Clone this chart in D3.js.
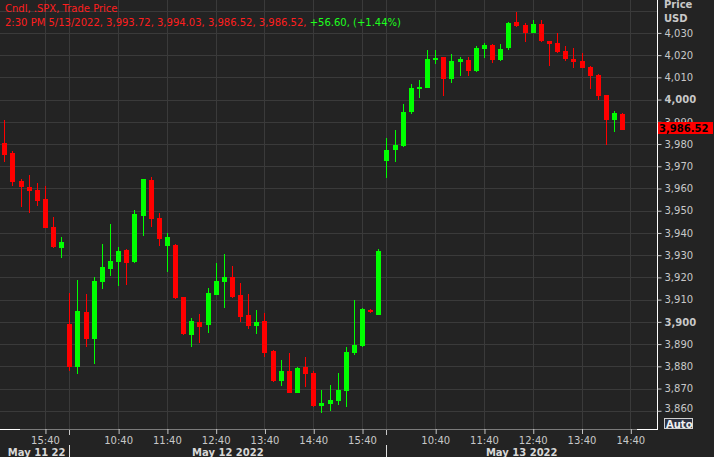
<!DOCTYPE html>
<html><head><meta charset="utf-8">
<script src="https://cdn.jsdelivr.net/npm/d3@7"></script>
<style>
html,body{margin:0;padding:0;background:#232323;}
svg{display:block;font-family:"DejaVu Sans",Verdana,sans-serif;}
</style></head><body>
<svg id="chart" width="714" height="457"></svg>
<script>
// ---- data (10-minute candles, label = bar end time) ----
const times = [
 "05/11 14:50","05/11 15:00","05/11 15:10","05/11 15:20","05/11 15:30","05/11 15:40","05/11 15:50","05/11 16:00",
 "05/12 09:40","05/12 09:50","05/12 10:00","05/12 10:10","05/12 10:20","05/12 10:30","05/12 10:40","05/12 10:50",
 "05/12 11:00","05/12 11:10","05/12 11:20","05/12 11:30","05/12 11:40","05/12 11:50","05/12 12:00","05/12 12:10",
 "05/12 12:20","05/12 12:30","05/12 12:40","05/12 12:50","05/12 13:00","05/12 13:10","05/12 13:20","05/12 13:30",
 "05/12 13:40","05/12 13:50","05/12 14:00","05/12 14:10","05/12 14:20","05/12 14:30","05/12 14:40","05/12 14:50",
 "05/12 15:00","05/12 15:10","05/12 15:20","05/12 15:30","05/12 15:40","05/12 15:50","05/12 16:00",
 "05/13 09:40","05/13 09:50","05/13 10:00","05/13 10:10","05/13 10:20","05/13 10:30","05/13 10:40","05/13 10:50",
 "05/13 11:00","05/13 11:10","05/13 11:20","05/13 11:30","05/13 11:40","05/13 11:50","05/13 12:00","05/13 12:10",
 "05/13 12:20","05/13 12:30","05/13 12:40","05/13 12:50","05/13 13:00","05/13 13:10","05/13 13:20","05/13 13:30",
 "05/13 13:40","05/13 13:50","05/13 14:00","05/13 14:10","05/13 14:20","05/13 14:30"
];
const futureSlots = ["05/13 14:40","05/13 14:50","05/13 15:00","05/13 15:10"];
const open  = [3980.3,3975.8,3963.4,3960.7,3959.3,3955.3,3942.7,3933.4,
 3899.2,3879.5,3904.6,3892.4,3918.1,3924.0,3927.1,3932.4,3927.1,3947.8,3963.8,3946.9,3934.3,3934.6,3911.2,3894.2,
 3900.1,3898.7,3912.1,3918.0,3920.2,3912.1,3903.1,3898.2,3900.4,3886.7,3873.2,3877.7,3868.2,3879.5,3877.2,3862.2,
 3863.1,3864.6,3869.1,3886.2,3889.2,3905.5,3903.1,
 3972.4,3977.3,3979.1,3994.5,4004.6,4005.3,4017.8,4019.1,4009.2,4016.9,4017.8,4012.9,4022.8,4024.5,4017.8,4023.3,
 4034.8,4033.5,4030.0,4033.9,4026.3,4025.5,4021.8,4018.2,4017.3,4014.7,4011.0,4002.0,3990.8,3993.72];
const high  = [3990.8,3977.0,3964.3,3966.1,3962.6,3961.1,3947.1,3938.3,
 3912.9,3918.9,3912.4,3920.4,3935.0,3944.0,3933.8,3932.6,3950.3,3964.3,3965.2,3948.9,3939.9,3935.1,3911.4,3901.8,
 3903.6,3915.1,3926.7,3930.6,3925.3,3917.4,3912.6,3905.4,3903.9,3887.4,3882.9,3886.2,3879.6,3884.4,3878.0,3869.4,
 3871.7,3877.2,3888.9,3909.9,3906.4,3905.8,3932.8,
 3982.8,3986.3,3998.0,4007.0,4008.8,4022.2,4022.2,4019.3,4020.4,4019.2,4019.0,4024.0,4025.3,4024.8,4024.9,4034.8,
 4039.5,4034.5,4035.7,4035.7,4026.5,4029.8,4024.0,4023.3,4021.0,4015.0,4011.5,4002.2,3994.8,3994.03];
const low   = [3972.0,3961.1,3951.8,3949.1,3952.1,3942.1,3933.4,3928.9,
 3877.7,3876.6,3888.9,3881.1,3914.8,3920.8,3916.3,3916.6,3926.5,3938.7,3942.8,3934.3,3922.6,3910.5,3894.2,3888.9,
 3890.7,3895.2,3912.0,3906.4,3910.9,3900.1,3896.7,3894.6,3884.4,3873.0,3871.2,3868.0,3868.0,3870.9,3861.7,3859.0,
 3859.7,3862.7,3861.9,3885.0,3888.9,3904.2,3903.1,
 3964.9,3972.0,3978.8,3993.5,4000.8,4005.0,4016.0,4001.6,4007.6,4010.6,4010.6,4012.6,4018.8,4016.3,4017.3,4022.2,
 4032.7,4026.0,4029.8,4026.0,4015.2,4020.8,4017.4,4014.3,4014.0,4004.6,3999.8,3979.6,3985.5,3986.52];
const close = [3975.1,3963.1,3960.5,3959.0,3954.5,3942.4,3933.7,3936.0,
 3879.5,3904.9,3892.4,3918.4,3924.9,3927.6,3931.9,3926.7,3948.5,3964.1,3946.4,3937.4,3938.3,3910.9,3894.7,3900.4,
 3897.9,3913.0,3918.4,3920.2,3911.2,3902.4,3898.3,3900.0,3886.2,3873.2,3877.7,3868.2,3879.2,3876.6,3862.2,3863.7,
 3864.9,3869.4,3886.5,3889.7,3905.8,3904.5,3932.0,
 3977.3,3979.6,3994.4,4005.3,4005.8,4018.2,4018.8,4009.2,4017.3,4018.2,4012.9,4023.1,4024.5,4017.8,4022.6,4034.6,
 4033.2,4030.0,4033.9,4026.4,4025.1,4021.5,4018.1,4017.0,4014.3,4010.7,4001.6,3990.8,3993.9,3986.52];
const xTickValues = ["05/11 15:40","05/12 10:40","05/12 11:40","05/12 12:40","05/12 13:40","05/12 14:40","05/12 15:40",
 "05/13 10:40","05/13 11:40","05/13 12:40","05/13 13:40","05/13 14:40"];
const daySeparators = ["05/12 09:40","05/13 09:40"];
const dayLabels = ["May 11 22","May 12 2022","May 13 2022"];
const yTickValues = [3860,3870,3880,3890,3900,3910,3920,3930,3940,3950,3960,3970,3980,3990,4000,4010,4020,4030];
const yGridValues = yTickValues.concat([4040]);
const boldTicks = [3900,4000];
const headerLine1 = "Cndl, .SPX, Trade Price";
const headerLine2Red = "2:30 PM 5/13/2022, 3,993.72, 3,994.03, 3,986.52, 3,986.52, ";
const headerLine2Green = "+56.60, (+1.44%)";
const yAxisTitle = ["Price","USD"];

// ---- layout ----
const W = 714, H = 457, plotR = 657, plotB = 429;
const UP = "#00ff00", DOWN = "#ff0000", GRID = "#3a3a3a", TXT = "#c8c8c8";

const svg = d3.select("#chart");
svg.append("rect").attr("width",W).attr("height",H).attr("fill","#232323");

const slots = times.concat(futureSlots);
const x = d3.scalePoint().domain(slots).range([4.3, 4.3 + 8.13*(slots.length-1)]);
const y = d3.scaleLinear().domain([3851.8, 4044.8]).range([plotB, 0]);

// grid
const grid = svg.append("g").attr("shape-rendering","crispEdges");
grid.selectAll("line.h").data(yGridValues).join("line").attr("class","h")
  .attr("x1",0).attr("x2",plotR).attr("y1",d=>Math.round(y(d))+0.5).attr("y2",d=>Math.round(y(d))+0.5)
  .attr("stroke",GRID).attr("stroke-width",1);
grid.selectAll("line.v").data(xTickValues.concat(daySeparators)).join("line").attr("class","v")
  .attr("y1",0).attr("y2",plotB).attr("x1",d=>Math.round(x(d))+0.5).attr("x2",d=>Math.round(x(d))+0.5)
  .attr("stroke",GRID).attr("stroke-width",1);

// header
const hdr = svg.append("g").attr("font-size","10px");
hdr.append("text").attr("x",5).attr("y",12).attr("fill","#ff1e1e").text(headerLine1);
const l2 = hdr.append("text").attr("x",5).attr("y",26);
l2.append("tspan").attr("fill","#ff1e1e").text(headerLine2Red);
l2.append("tspan").attr("fill","#1eff1e").text(headerLine2Green);

// candles
const idx = d3.range(times.length);
const cg = svg.append("g").attr("shape-rendering","crispEdges");
cg.selectAll("line.wick").data(idx).join("line").attr("class","wick")
  .attr("x1",i=>Math.round(x(times[i]))+0.5).attr("x2",i=>Math.round(x(times[i]))+0.5)
  .attr("y1",i=>y(high[i])).attr("y2",i=>y(low[i]))
  .attr("stroke",i=>close[i]>=open[i]?UP:DOWN).attr("stroke-width",1);
cg.selectAll("rect.body").data(idx).join("rect").attr("class","body")
  .attr("x",i=>Math.round(x(times[i]))-2).attr("width",5)
  .attr("y",i=>Math.min(y(open[i]),y(close[i])))
  .attr("height",i=>Math.max(2,Math.abs(y(open[i])-y(close[i]))))
  .attr("fill",i=>close[i]>=open[i]?UP:DOWN);

// frame
const fr = svg.append("g").attr("shape-rendering","crispEdges");
fr.append("line").attr("x1",0).attr("x2",plotR).attr("y1",plotB+0.5).attr("y2",plotB+0.5).attr("stroke","#7a7a7a");
fr.append("line").attr("x1",0).attr("x2",20).attr("y1",plotB+0.5).attr("y2",plotB+0.5).attr("stroke","#ffffff");
fr.append("line").attr("x1",plotR-20).attr("x2",plotR+1).attr("y1",plotB+0.5).attr("y2",plotB+0.5).attr("stroke","#ffffff");
fr.append("line").attr("x1",plotR+0.5).attr("x2",plotR+0.5).attr("y1",0).attr("y2",plotB+1).attr("stroke","#ffffff");

// right axis
const yAxis = d3.axisRight(y).tickValues(yTickValues).tickSize(4).tickPadding(3).tickFormat(d3.format(","));
const ya = svg.append("g").attr("transform",`translate(${plotR+0.5},0)`).call(yAxis);
ya.select(".domain").remove();
ya.selectAll(".tick line").attr("stroke",TXT);
ya.selectAll(".tick text").attr("fill",TXT).attr("font-size","10px").attr("font-family","DejaVu Sans")
  .attr("font-weight",d=>boldTicks.includes(d)?"bold":"normal")
  .attr("dy",d=>d===3860?"0.05em":"0.32em");
svg.append("text").attr("x",664).attr("y",8).attr("fill",TXT).attr("font-size","10px").attr("font-weight","bold").text(yAxisTitle[0]);
svg.append("text").attr("x",664).attr("y",22).attr("fill",TXT).attr("font-size","10px").attr("font-weight","bold").text(yAxisTitle[1]);

// last price box
const last = close[close.length-1];
const ly = Math.round(y(last));
svg.append("rect").attr("x",658).attr("y",ly-8).attr("width",55).attr("height",12).attr("fill","#ff0000");
svg.append("text").attr("x",659).attr("y",ly+2).attr("fill","#000").attr("font-size","10px").attr("font-weight","bold")
  .text(d3.format(",.2f")(last));

// Auto button
svg.append("rect").attr("x",664.5).attr("y",418.5).attr("width",28).attr("height",10).attr("fill","#2c3140")
  .attr("stroke","#d0d0d0").attr("stroke-width",1).attr("shape-rendering","crispEdges");
svg.append("text").attr("x",666).attr("y",427.5).attr("fill","#f0f0f0").attr("font-size","10px").attr("font-weight","bold").text("Auto");

// bottom axis
const xAxis = d3.axisBottom(x).tickValues(xTickValues).tickSize(5).tickPadding(3).tickFormat(d=>d.slice(6));
const xa = svg.append("g").attr("transform",`translate(0,${plotB})`).call(xAxis);
xa.select(".domain").remove();
xa.selectAll(".tick line").attr("stroke",TXT).attr("transform","translate(0.5,0)");
xa.selectAll(".tick text").attr("fill",TXT).attr("font-size","10px").attr("font-family","DejaVu Sans");

// day separators + date labels
const sg = svg.append("g").attr("shape-rendering","crispEdges");
daySeparators.forEach(s=>{
  const sx = Math.round(x(s))+0.5;
  sg.append("line").attr("x1",sx).attr("x2",sx).attr("y1",plotB+1).attr("y2",plotB+6).attr("stroke",TXT);
  sg.append("line").attr("x1",sx).attr("x2",sx).attr("y1",plotB+16).attr("y2",H).attr("stroke","#e0e0e0");
});
const bounds = [0].concat(daySeparators.map(s=>x(s))).concat([plotR]);
svg.selectAll("text.day").data(dayLabels).join("text").attr("class","day")
  .attr("x",(d,i)=>(bounds[i]+bounds[i+1])/2+(i===0?2:0)).attr("y",455.5).attr("text-anchor","middle")
  .attr("fill","#d8d8d8").attr("font-size","10px").attr("font-weight","bold").text(d=>d);
</script>
</body></html>
